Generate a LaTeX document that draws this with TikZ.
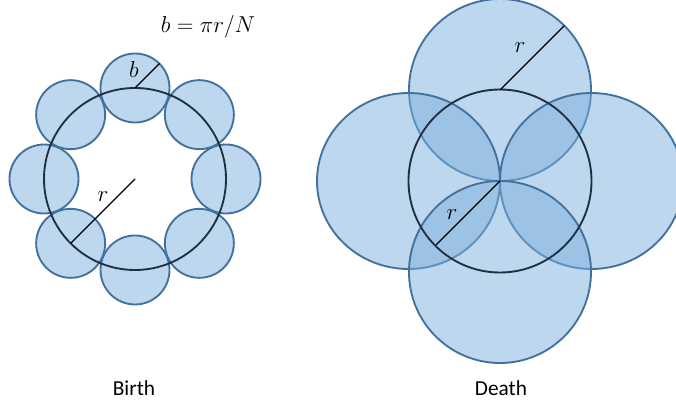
\documentclass[tikz,border=0pt]{standalone}
\usepackage{fontspec}
\setmainfont{Carlito}
\usetikzlibrary{calc}

\definecolor{cellfill}{RGB}{123,175,221}
\definecolor{cellline}{RGB}{65,113,156}
\definecolor{ringline}{RGB}{32,48,66}

\tikzset{
  cell/.style={draw=cellline, line width=1.4pt, fill=cellfill, fill opacity=0.5},
  ring/.style={draw=ringline, line width=1.4pt},
  radline/.style={draw=black, line width=0.8pt},
  lbl/.style={font=\fontsize{16}{19}\selectfont, inner sep=0pt}
}

\begin{document}
\begin{tikzpicture}[x=0.75pt, y=-0.75pt]
  \useasboundingbox (0,0) rectangle (676,406);
  \coordinate (birth) at (135,179);
  \coordinate (death) at (500,181);
  % birth: small cells round the ring
  \foreach \a in {0,45,...,315}
    \draw[cell] ($(birth)+(\a:91)$) circle (34.5);
  \draw[ring] (birth) circle (91);
  \coordinate (btop) at ($(birth)+(0,-91)$);
  \draw[radline] (btop) -- ++(-45:34.5);
  \draw[radline] (birth) -- ++(135:91);
  \node[lbl] (blabel) at (134,70) {$b$};
  \node[lbl] (rbirth) at (103,197) {$r$};
  \node[lbl] (formula) at (208,27) {$b = \pi r/N$};
  % death: four big cells
  \draw[cell] ($(death)+(0,-91)$) circle (91);
  \draw[cell] ($(death)+(-91.5,0)$) ellipse (91.5 and 88);
  \draw[cell] ($(death)+(91.5,0)$) ellipse (91.5 and 88);
  \draw[cell] ($(death)+(0,91)$) circle (91);
  \draw[ring] (death) circle (91.5);
  \coordinate (dtop) at ($(death)+(0,-91)$);
  \draw[radline] (dtop) -- ++(-45:91);
  \draw[radline] (death) -- ++(135:91);
  \node[lbl] (rtop) at (520,48) {$r$};
  \node[lbl] (rdeath) at (452,215) {$r$};
  % captions
  \node[lbl, anchor=base] (birthtext) at (134,396) {Birth};
  \node[lbl, anchor=base] (deathtext) at (501,396) {Death};
\end{tikzpicture}
\end{document}
